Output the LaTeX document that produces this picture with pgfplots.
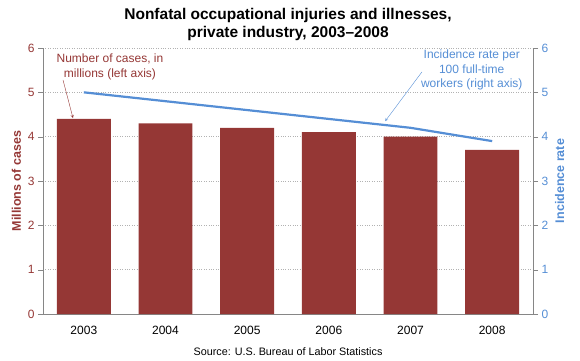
\documentclass[border=0pt]{standalone}
\usepackage{pgfplots}
\pgfplotsset{compat=1.18}
\usepackage{fontspec}
\setmainfont{Liberation Sans}
\definecolor{barred}{HTML}{953735}
\definecolor{lineblue}{HTML}{558ED5}
\definecolor{axgray}{HTML}{868686}
\begin{document}
\begin{tikzpicture}
\useasboundingbox (-43pt,-46pt) rectangle (537pt,314pt);
\begin{axis}[
  at={(0,0)}, anchor=south west,
  scale only axis, width=490pt, height=266pt,
  xmin=-0.5, xmax=5.5, ymin=0, ymax=6,
  axis y line*=left, axis x line*=bottom,
  axis line style={draw=axgray, -},
  xtick={0,...,5},
  xticklabels={2003,2004,2005,2006,2007,2008},
  major x tick style={draw=none},
  extra x ticks={-0.5,0.5,1.5,2.5,3.5,4.5,5.5},
  extra x tick labels={},
  extra x tick style={tick align=outside, major tick length=5pt, tick style={draw=axgray}},
  ytick={0,...,6},
  y tick style={draw=axgray},
  tick align=outside, major tick length=5pt,
  ymajorgrids, grid style={draw=gray!60, dotted},
  ticklabel style={font=\fontsize{12}{14}\selectfont},
  yticklabel style={text=barred},
  /pgf/number format/assume math mode=true,
  ylabel={\bfseries Millions of cases},
  ylabel style={text=barred, font=\fontsize{12.5}{15}\selectfont},
  xticklabel style={yshift=-4pt},
  clip=false,
]
\addplot[ybar, bar width=0.66, fill=barred, draw=none] coordinates {
 (0,4.4) (1,4.3) (2,4.2) (3,4.1) (4,4.0) (5,3.7)};
\node[text=barred, align=center, font=\fontsize{12}{14.5}\selectfont] at (axis cs:0.32,5.57) {Number of cases, in\\millions (left axis)};
\draw[barred, -stealth, thin] (axis cs:-0.255,5.28) -- (axis cs:-0.133,4.42);
\node[text=lineblue, align=center, font=\fontsize{12}{14.5}\selectfont] at (axis cs:4.75,5.5) {Incidence rate per\\100 full-time\\workers (right axis)};
\draw[lineblue, -stealth, thin] (axis cs:4.14,5.46) -- (axis cs:3.69,4.35);
\node[font=\bfseries\fontsize{15.5}{18}\selectfont, align=center] at (axis cs:2.5,6.54) {Nonfatal occupational injuries and illnesses,\\private industry, 2003--2008};
\node[font=\fontsize{10.8}{12}\selectfont] at (axis cs:2.5,-0.86) {Source: U.S. Bureau of Labor Statistics};
\end{axis}
\begin{axis}[
  at={(0,0)}, anchor=south west,
  scale only axis, width=490pt, height=266pt,
  xmin=-0.5, xmax=5.5, ymin=0, ymax=6,
  axis x line=none, axis y line*=right,
  axis line style={draw=axgray, -},
  ytick={0,...,6},
  y tick style={draw=axgray},
  tick align=outside, major tick length=5pt,
  ticklabel style={font=\fontsize{12}{14}\selectfont},
  yticklabel style={text=lineblue},
  /pgf/number format/assume math mode=true,
  ylabel={\bfseries Incidence rate},
  ylabel style={text=lineblue, font=\fontsize{12.5}{15}\selectfont},
]
\addplot[lineblue, line width=2.2pt, mark=none] coordinates {
 (0,5.0) (1,4.8) (2,4.6) (3,4.4) (4,4.2) (5,3.9)};
\end{axis}
\end{tikzpicture}
\end{document}
